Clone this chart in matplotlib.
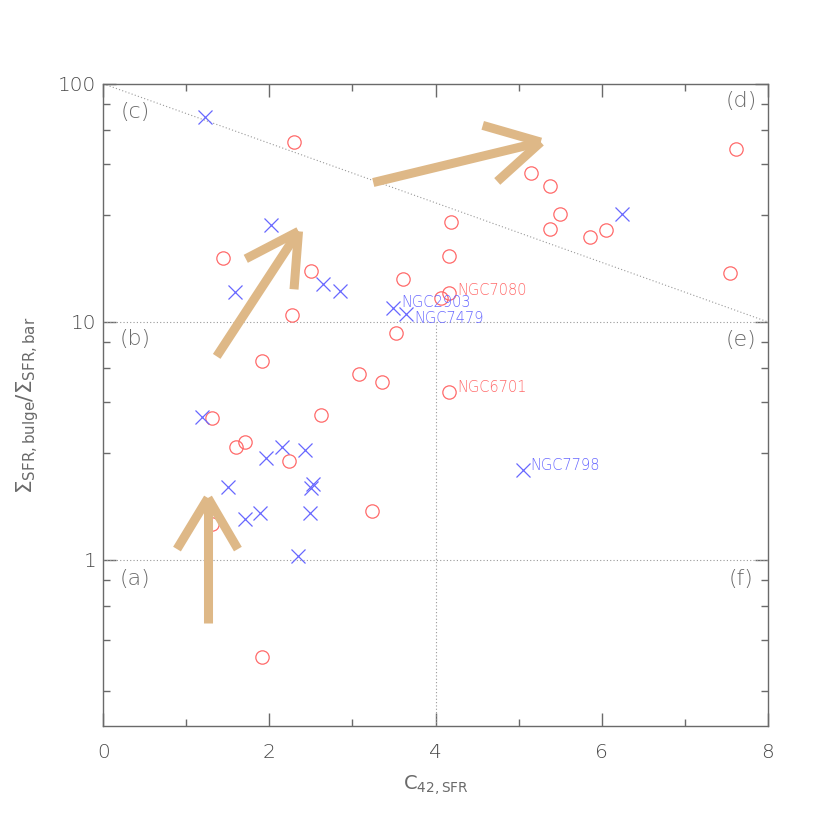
import matplotlib
matplotlib.use("Agg")
import matplotlib.pyplot as plt
import numpy as np

# red circles (barred galaxies sample A)
red_x = [2.30, 7.62, 5.15, 5.375, 5.50, 5.375, 5.86, 6.05, 7.55, 4.19, 4.16, 3.61,
         4.16, 4.06, 3.52, 4.16, 3.35, 2.27, 1.915, 3.075, 1.31, 2.625, 1.60, 1.70,
         2.24, 3.23, 1.305, 1.91, 1.44, 2.50]
red_y = [57.0, 53.0, 42.2, 37.3, 28.3, 24.6, 22.8, 24.4, 16.0, 26.3, 19.0, 15.2,
         13.2, 12.6, 8.96, 5.08, 5.57, 10.7, 6.88, 6.02, 3.93, 4.06, 2.97, 3.12,
         2.60, 1.61, 1.41, 0.39, 18.6, 16.3]

# blue crosses
blue_x = [1.22, 2.02, 6.245, 3.49, 3.65, 5.05, 1.58, 2.65, 2.85, 1.19, 2.15, 2.43,
          1.955, 2.53, 2.50, 1.505, 1.70, 1.89, 2.49, 2.34]
blue_y = [72.6, 25.5, 28.3, 11.45, 10.8, 2.38, 13.4, 14.4, 13.5, 3.97, 2.99, 2.89,
          2.67, 2.09, 2.00, 2.03, 1.49, 1.57, 1.57, 1.04]

# named objects
names = ["NGC7080", "NGC2903", "NGC7479", "NGC6701", "NGC7798"]
name_x = [4.16, 3.49, 3.65, 4.16, 5.05]
name_y = [13.2, 11.45, 10.8, 5.08, 2.38]
name_col = ["r", "b", "b", "r", "b"]

# evolutionary arrows: tail, tip, barb1, barb2
arrows = [
    [(1.26, 0.543), (1.26, 1.82), (0.887, 1.11), (1.62, 1.11)],
    [(1.365, 7.16), (2.35, 24.0), (1.715, 18.4), (2.296, 13.7)],
    [(3.25, 38.5), (5.267, 56.9), (4.568, 66.9), (4.743, 38.9)],
]

regions = ["(a)", "(b)", "(c)", "(d)", "(e)", "(f)"]
region_x = [0.38, 0.38, 0.38, 7.68, 7.68, 7.68]
region_y = [0.83, 8.5, 76, 85, 8.35, 0.83]

RED = "#ff6a6a"
BLUE = "#6868ff"
TAN = "#deb887"
GRAY = "#6a6a6a"

fig = plt.figure(figsize=(8.3, 8.3), dpi=100)
ax = fig.add_axes([0.1245, 0.125, 0.8005, 0.774])

ax.set_yscale("log")
ax.set_xlim(0, 8)
ax.set_ylim(0.2, 100)

# dividing lines
dot = (0, (1, 2))
ax.plot([0, 8], [10, 10], ls=dot, color="#999999", lw=0.8)
ax.plot([0, 8], [1, 1], ls=dot, color="#999999", lw=0.8)
ax.plot([4, 4], [0.2, 10], ls=dot, color="#999999", lw=0.8)
ax.plot([0, 8], [100, 10], ls=dot, color="#999999", lw=0.8)

ax.plot(red_x, red_y, ls="none", marker="o", ms=9.6, mfc="none", mec=RED, mew=0.9)
ax.plot(blue_x, blue_y, ls="none", marker="x", ms=10, mec=BLUE, mew=0.9)

offs = {"NGC7080": (6, 2), "NGC2903": (5.5, 3.5), "NGC7479": (5.5, -3),
        "NGC6701": (6, 3), "NGC7798": (5.5, 3.5)}
for n, x, y, c in zip(names, name_x, name_y, name_col):
    ax.annotate(n, (x, y), xytext=offs[n], textcoords="offset points",
                color=RED if c == "r" else BLUE, fontsize=10.5, fontweight="light",
                ha="left", va="center")

for tail, tip, b1, b2 in arrows:
    for p in (tail, b1, b2):
        ax.plot([p[0], tip[0]], [p[1], tip[1]], color=TAN, lw=6.5,
                solid_capstyle="butt", zorder=5)

for t, x, y in zip(regions, region_x, region_y):
    ax.text(x, y, t, color=GRAY, fontsize=16, fontweight="light",
            ha="center", va="center")

# ticks, IDL style
ax.set_xticks([0, 2, 4, 6, 8])
ax.set_xticks([1, 3, 5, 7], minor=True)
ax.set_yticks([1, 10, 100])
ax.set_yticklabels(["1", "10", "100"])
ax.set_yticks([0.28, 0.46, 0.64, 0.82, 2.8, 4.6, 6.4, 8.2, 28, 46, 64, 82], minor=True)
ax.yaxis.set_minor_formatter(matplotlib.ticker.NullFormatter())
ax.tick_params(which="both", direction="in", top=True, right=True, color=GRAY,
               labelcolor="#4a4a4a", labelsize=14.5, width=1)
ax.tick_params(which="major", length=9.5)
ax.tick_params(which="minor", length=5)
ax.tick_params(axis="x", which="major", pad=12)
ax.tick_params(axis="y", which="major", pad=5)
for lab in ax.get_xticklabels() + ax.get_yticklabels():
    lab.set_fontweight("light")
for s in ax.spines.values():
    s.set_color(GRAY)
    s.set_linewidth(1)

ax.set_xlabel(r"C$_{\rm 42,SFR}$", color=GRAY, fontsize=14, labelpad=8)
ax.set_ylabel(r"$\Sigma_{\rm SFR,bulge}/\Sigma_{\rm SFR,bar}$", color=GRAY,
              fontsize=15.5, labelpad=12)

fig.savefig("out.png", dpi=100)
